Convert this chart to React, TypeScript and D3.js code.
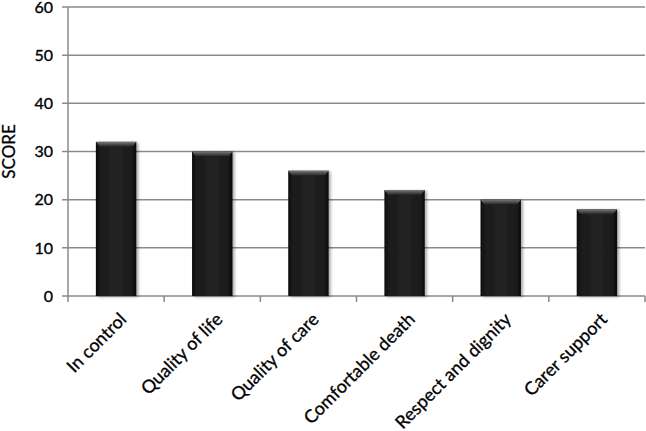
import React from "react";
import * as d3 from "d3";

const categories = ["In control", "Quality of life", "Quality of care", "Comfortable death", "Respect and dignity", "Carer support"];
const scores = [32, 30, 26, 22, 20, 18];
const yTicks = [0, 10, 20, 30, 40, 50, 60];
const yLabel = "SCORE";

const W = 646, H = 431;
const left = 68, right = 645, top = 7, bottom = 296;

export default function App() {
  const x = d3.scaleBand<string>().domain(categories).range([left, right]).paddingInner(0.58).paddingOuter(0.29);
  const xb = d3.scaleBand<string>().domain(categories).range([left, right]);
  const y = d3.scaleLinear().domain([0, 60]).range([bottom, top]);
  const font = "Lato, 'Open Sans', sans-serif";
  return (
    <svg width={W} height={H} style={{ position: "absolute", left: 0, top: 0 }}>
      <defs>
        <linearGradient id="barg" x1="0" x2="1" y1="0" y2="0">
          <stop offset="0" stopColor="#0c0c0c" />
          <stop offset="0.12" stopColor="#1c1c1c" />
          <stop offset="0.5" stopColor="#222" />
          <stop offset="0.88" stopColor="#1c1c1c" />
          <stop offset="1" stopColor="#0a0a0a" />
        </linearGradient>
        <linearGradient id="topg" x1="0" x2="0" y1="0" y2="1">
          <stop offset="0" stopColor="#777" />
          <stop offset="1" stopColor="#222" />
        </linearGradient>
        <filter id="sh" x="-20%" y="-10%" width="150%" height="130%">
          <feGaussianBlur in="SourceAlpha" stdDeviation="1.5" />
          <feOffset dx="2" dy="1" result="b" />
          <feComponentTransfer><feFuncA type="linear" slope="0.35" /></feComponentTransfer>
          <feMerge><feMergeNode /><feMergeNode in="SourceGraphic" /></feMerge>
        </filter>
      </defs>
      {yTicks.map((t) => (
        <g key={t}>
          <line x1={left - 6} x2={right} y1={y(t)} y2={y(t)} stroke="#8a8a8a" strokeWidth={1.5} />
          <text x={53} y={y(t)} dy="0.36em" textAnchor="end" fontFamily={font} fontSize={16} fill="#000" stroke="#000" strokeWidth={0.35}>{t}</text>
        </g>
      ))}
      <line x1={left} x2={left} y1={top} y2={bottom} stroke="#8a8a8a" strokeWidth={1.5} />
      {categories.map((c, i) => (
        <line key={"t" + i} x1={(xb(c) as number) + xb.bandwidth()} x2={(xb(c) as number) + xb.bandwidth()} y1={bottom} y2={bottom + 6} stroke="#8a8a8a" strokeWidth={1.5} />
      ))}
      <line x1={left} x2={left} y1={bottom} y2={bottom + 6} stroke="#8a8a8a" strokeWidth={1.5} />
      {categories.map((c, i) => {
        const bx = x(c) as number;
        const bw = x.bandwidth();
        const by = y(scores[i]);
        return (
          <g key={c} filter="url(#sh)">
            <rect x={bx} y={by} width={bw} height={bottom - by} fill="url(#barg)" />
            <polygon points={`${bx},${by} ${bx + bw},${by} ${bx + bw - 4},${by + 5} ${bx + 4},${by + 5}`} fill="url(#topg)" />
          </g>
        );
      })}
      {categories.map((c) => {
        const cx = (xb(c) as number) + xb.bandwidth() / 2 + 7;
        return (
          <text key={"l" + c} transform={`translate(${cx},${bottom + 20}) rotate(-45)`} textAnchor="end" dy="0.35em" fontFamily={font} fontSize={18} fill="#000" stroke="#000" strokeWidth={0.3}>{c}</text>
        );
      })}
      <text transform={`translate(15,${(top + bottom) / 2}) rotate(-90)`} textAnchor="middle" fontFamily={font} fontSize={17} fill="#000" stroke="#000" strokeWidth={0.3}>{yLabel}</text>
    </svg>
  );
}
